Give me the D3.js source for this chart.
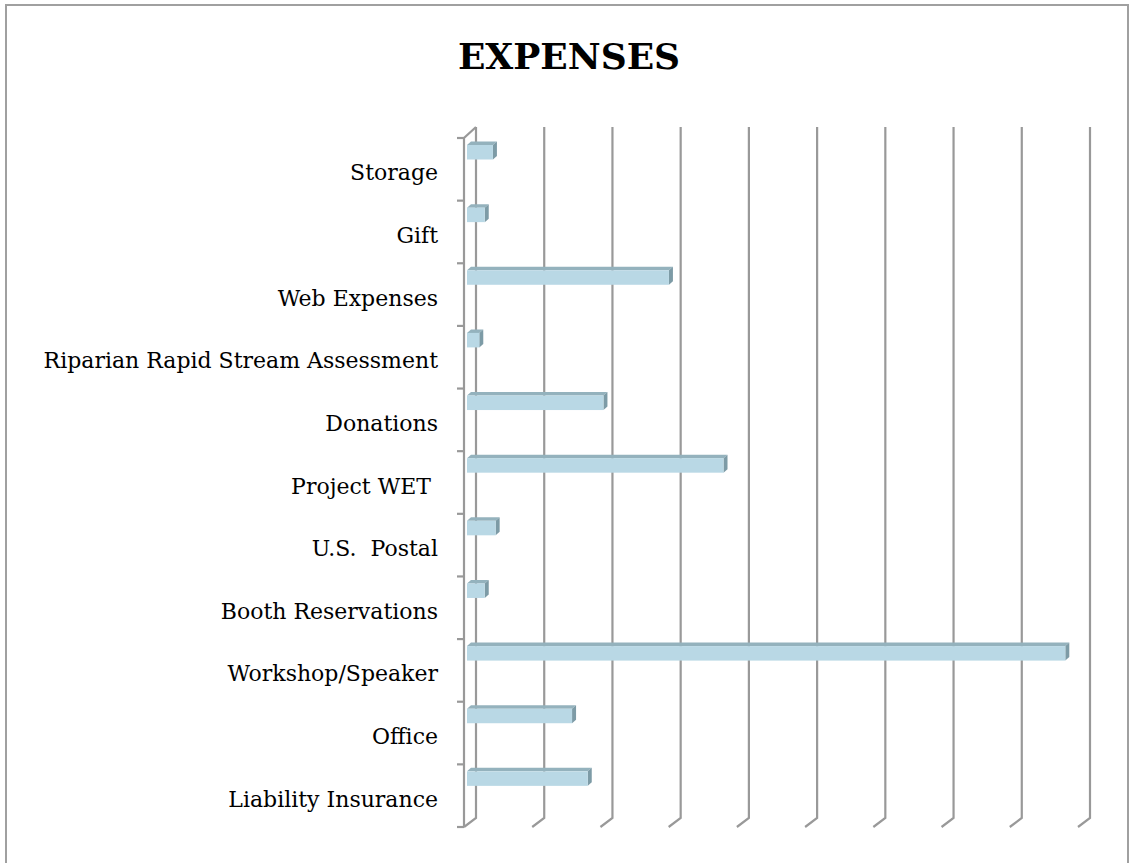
<!DOCTYPE html>
<html><head><meta charset="utf-8">
<script src="https://cdn.jsdelivr.net/npm/d3@7"></script>
<style>body{margin:0;background:#fff}svg{display:block}text{white-space:pre}</style>
</head><body>
<svg id="c" width="1129" height="863"></svg>
<script>
const categories = ["Storage","Gift","Web Expenses","Riparian Rapid Stream Assessment","Donations","Project WET ","U.S.  Postal","Booth Reservations","Workshop/Speaker","Office","Liability Insurance"];
const values = [38,26,296,18,200,376,42,26,877,154,177];
const gridTicks = [0,100,200,300,400,500,600,700,800,900];
const title = "EXPENSES";

const svg = d3.select("#c");
// frame
svg.append("rect").attr("x",6).attr("y",5).attr("width",1122).attr("height",900)
  .attr("fill","#fff").attr("stroke","#A0A0A0").attr("stroke-width",2);

svg.append("text").attr("x",569).attr("y",69).attr("text-anchor","middle")
  .attr("font-family","DejaVu Serif").attr("font-weight","bold").attr("font-size",36)
  .attr("fill","#000").text(title);

const depthX=12, depthY=9;
const x = d3.scaleLinear().domain([0,900]).range([476,1090]);
const y = d3.scaleBand().domain(categories).range([138,827]).paddingInner(0).paddingOuter(0);
const wallTop=127, wallBottom=818;

const grid = svg.append("g").attr("stroke","#999999").attr("stroke-width",2.2).attr("fill","none");
gridTicks.forEach(t=>{
  const gx=x(t);
  grid.append("path").attr("d",`M${gx},${wallTop}L${gx},${wallBottom}L${gx-depthX},${wallBottom+depthY}`);
});
// front left axis
const ax = x(0)-depthX;
grid.append("path").attr("d",`M${x(0)},${wallTop}L${ax},${wallTop+depthY+2}L${ax},${wallBottom+depthY}`);
// ticks
const tickYs = categories.map(c=>y(c)).concat([y.range()[1]]);
tickYs.forEach(ty=>{
  grid.append("line").attr("x1",ax-7).attr("x2",ax).attr("y1",ty).attr("y2",ty);
});

// bars
const barOff=9, bdx=4, bdy=3.5, bTop=7, bH=14.5;
const bars = svg.append("g");
categories.forEach((c,i)=>{
  const x0=x(0)-barOff, x1=x(values[i])-barOff;
  const yt=y(c)+bTop, yb=yt+bH;
  bars.append("path").attr("d",`M${x0},${yt}L${x0+bdx},${yt-bdy}L${x1+bdx},${yt-bdy}L${x1},${yt}Z`).attr("fill","#94B2BD");
  bars.append("path").attr("d",`M${x1},${yt}L${x1+bdx},${yt-bdy}L${x1+bdx},${yb-bdy}L${x1},${yb}Z`).attr("fill","#7D9BA6");
  bars.append("rect").attr("x",x0).attr("y",yt).attr("width",x1-x0).attr("height",bH).attr("fill","#B9D8E5");
});

// labels
svg.append("g").selectAll("text").data(categories).join("text")
  .attr("x",438).attr("y",d=>y(d)+y.bandwidth()/2+11)
  .attr("text-anchor","end").attr("font-family","DejaVu Serif").attr("font-size",22)
  .attr("fill","#000").text(d=>d);
</script>
</body></html>
